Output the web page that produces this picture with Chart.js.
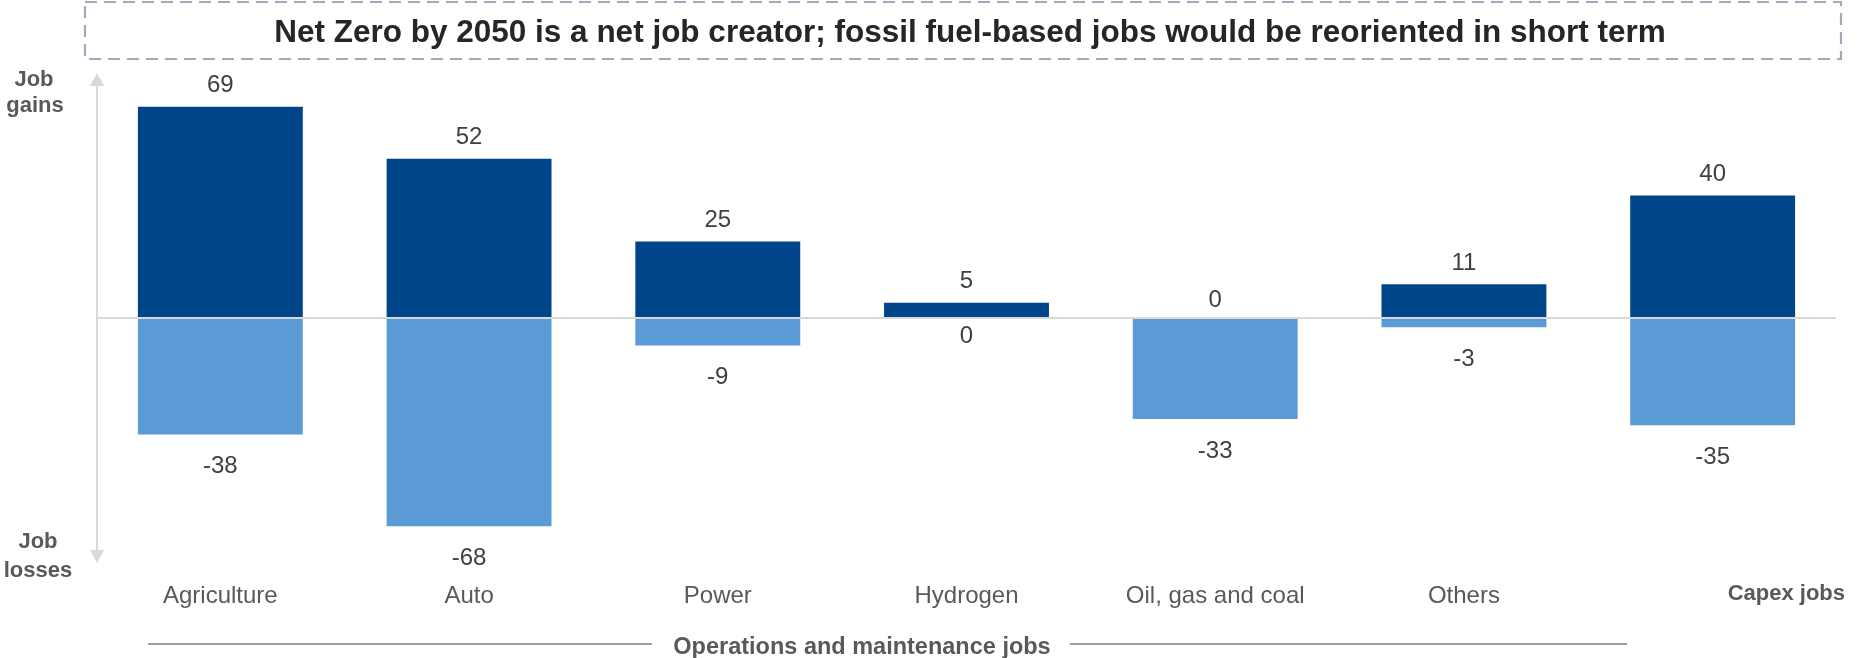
<!DOCTYPE html>
<html>
<head>
<meta charset="utf-8">
<title>Net Zero jobs</title>
<script src="https://cdn.jsdelivr.net/npm/chart.js@4/dist/chart.umd.min.js"></script>
<style>
  html, body { margin: 0; padding: 0; background: #fff; }
  #chart { display: block; }
</style>
</head>
<body>
<canvas id="chart" width="1875" height="658"></canvas>
<script>
// Sectors on the x axis, last one is the capex column
const categories = ['Agriculture', 'Auto', 'Power', 'Hydrogen', 'Oil, gas and coal', 'Others', 'Capex jobs'];
const jobGains = [69, 52, 25, 5, 0, 11, 40];
const jobLosses = [-38, -68, -9, 0, -33, -3, -35];

const titleText = 'Net Zero by 2050 is a net job creator; fossil fuel-based jobs would be reoriented in short term';
const groupText = 'Operations and maintenance jobs';

const FONT = '"Liberation Sans", Arial, Helvetica, sans-serif';

//Draws the zero line and the value labels on top of the bars.
const decorations = {
    id: 'decorations',
    afterDatasetsDraw(chart) {
        const ctx = chart.ctx;
        const area = chart.chartArea;
        const y = chart.scales.y;
        const zero = y.getPixelForValue(0);

        ctx.save();

        // zero line over the bars
        ctx.strokeStyle = '#d9d9d9';
        ctx.lineWidth = 2;
        ctx.beginPath();
        ctx.moveTo(area.left + 2, zero);
        ctx.lineTo(area.right - 1, zero);
        ctx.stroke();

        // value labels, gains above the bar and losses below it
        ctx.fillStyle = '#404040';
        ctx.font = '24px ' + FONT;
        ctx.textAlign = 'center';
        ctx.textBaseline = 'middle';
        chart.data.datasets.forEach((ds, di) => {
            chart.getDatasetMeta(di).data.forEach((bar, i) => {
                const v = ds.data[i];
                let ly;
                if (v === 0) ly = di === 0 ? zero - 18 : zero + 18;
                else if (di === 0) ly = y.getPixelForValue(v) - 21;
                else ly = y.getPixelForValue(v) + 32;
                ctx.fillText(String(v), bar.x, ly);
            });
        });

        ctx.restore();
    },
    //Title box, the gains/losses arrow and all the text around the plot.
    afterDraw(chart) {
        const ctx = chart.ctx;
        const area = chart.chartArea;
        const x = chart.scales.x;

        ctx.save();

        // dashed title box
        ctx.strokeStyle = '#a0aaba';
        ctx.lineWidth = 2.2;
        ctx.setLineDash([12, 7]);
        ctx.strokeRect(85, 2, 1756, 57);
        ctx.setLineDash([]);

        ctx.fillStyle = '#262626';
        ctx.font = 'bold 31.5px ' + FONT;
        ctx.textAlign = 'center';
        ctx.textBaseline = 'middle';
        ctx.fillText(titleText, 970, 33);

        // double headed arrow on the left
        const ax = 97;
        ctx.strokeStyle = '#d9d9d9';
        ctx.fillStyle = '#d9d9d9';
        ctx.lineWidth = 2;
        ctx.beginPath();
        ctx.moveTo(ax, area.top + 10);
        ctx.lineTo(ax, area.bottom - 10);
        ctx.stroke();
        ctx.beginPath();
        ctx.moveTo(ax, area.top);
        ctx.lineTo(ax - 7, area.top + 13);
        ctx.lineTo(ax + 7, area.top + 13);
        ctx.closePath();
        ctx.fill();
        ctx.beginPath();
        ctx.moveTo(ax, area.bottom);
        ctx.lineTo(ax - 7, area.bottom - 13);
        ctx.lineTo(ax + 7, area.bottom - 13);
        ctx.closePath();
        ctx.fill();

        ctx.fillStyle = '#595959';
        ctx.font = 'bold 22px ' + FONT;
        ctx.fillText('Job', 34, 80);
        ctx.fillText('gains', 35, 106);
        ctx.fillText('Job', 38, 542);
        ctx.fillText('losses', 38, 571);

        // category labels under the bars
        categories.forEach((c, i) => {
            if (i === categories.length - 1) {
                ctx.font = 'bold 22px ' + FONT;
                ctx.textAlign = 'right';
                ctx.fillText(c, area.right + 8, 594);
            } else {
                ctx.font = '24px ' + FONT;
                ctx.textAlign = 'center';
                ctx.fillText(c, x.getPixelForValue(i), 596);
            }
        });

        // bracket for the operations group
        ctx.font = 'bold 23.5px ' + FONT;
        ctx.textAlign = 'center';
        ctx.fillText(groupText, 862, 648);
        ctx.strokeStyle = '#7f7f7f';
        ctx.lineWidth = 1.5;
        ctx.beginPath();
        ctx.moveTo(148, 644);
        ctx.lineTo(652, 644);
        ctx.moveTo(1070, 644);
        ctx.lineTo(1627, 644);
        ctx.stroke();

        ctx.restore();
    }
};

let ctx = document.getElementById('chart').getContext('2d');

window.bar = new Chart(ctx, {
    type: 'bar',
    data: {
        labels: categories,
        datasets: [{
            label: 'Job gains',
            data: jobGains,
            backgroundColor: '#00448a',
            borderWidth: 0
        }, {
            label: 'Job losses',
            data: jobLosses,
            backgroundColor: '#5b9bd5',
            borderWidth: 0
        }]
    },
    options: {
        responsive: false,
        devicePixelRatio: 1,
        animation: false,
        layout: { padding: { top: 73, bottom: 95, left: 96, right: 38 } },
        datasets: {
            bar: { barPercentage: 0.663, categoryPercentage: 1.0 }
        },
        scales: {
            x: { stacked: true, display: false },
            y: { stacked: true, display: false, min: -80, max: 80 }
        },
        plugins: {
            legend: { display: false },
            tooltip: { enabled: false }
        }
    },
    plugins: [decorations]
});
</script>
</body>
</html>
